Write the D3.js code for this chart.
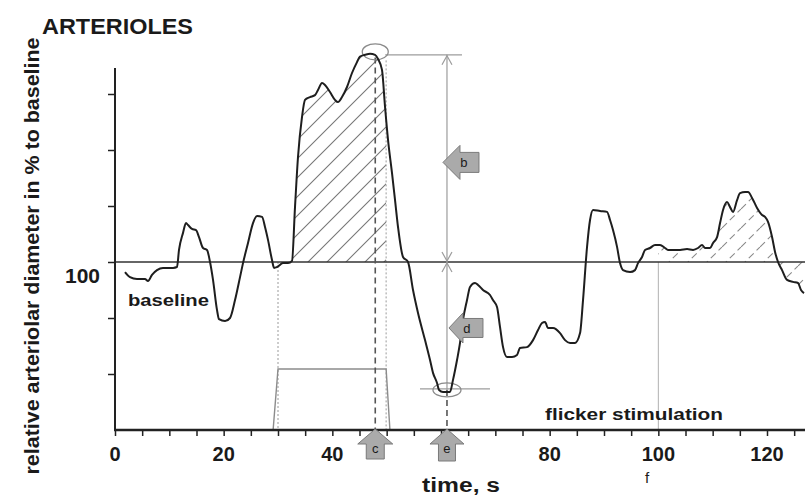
<!DOCTYPE html>
<html>
<head>
<meta charset="utf-8">
<script src="https://cdn.jsdelivr.net/npm/d3@7"></script>
<style>
  html, body { margin: 0; padding: 0; background: #fff; }
  svg { display: block; }
  text { font-family: "Liberation Sans", Arial, Helvetica, sans-serif; fill: #1a1a1a; }
</style>
</head>
<body>
<svg id="chart" width="805" height="496"></svg>
<script>
// Arteriolar diameter trace (time in s, diameter in % of baseline)
const timeS = [
  1.84, 2.76, 4.05, 5.52, 6.07, 6.81, 7.73, 8.83, 10.68, 11.41, 11.78, 12.52, 13.07, 13.44, 14.17,
  14.91, 15.46, 16.20, 16.93, 17.49, 18.04, 18.77, 19.14, 20.25, 21.17, 22.09, 23.01, 23.56, 24.48,
  25.40, 26.14, 27.06, 27.61, 28.16, 28.90, 29.27, 29.82, 30.92, 31.84, 32.58, 33.13, 33.68, 34.42,
  34.97, 35.89, 36.81, 37.36, 38.10, 38.65, 39.57, 40.49, 41.04, 41.78, 42.70, 43.62, 44.54, 45.10,
  46.02, 46.94, 47.86, 48.41, 49.14, 49.70, 50.25, 50.98, 51.54, 52.09, 53.01, 53.93, 54.85, 55.77,
  57.06, 57.98, 58.53, 59.27, 59.64, 60.37, 61.66, 62.21, 62.95, 63.50, 64.05, 64.79, 65.34, 66.26,
  66.81, 67.73, 69.02, 69.57, 70.31, 70.86, 71.42, 72.15, 73.07, 73.99, 74.54, 75.83, 76.94, 77.86,
  78.59, 79.15, 79.70, 80.62, 81.91, 82.83, 83.75, 84.67, 85.59, 86.14, 86.88, 87.43, 87.98, 89.27,
  90.56, 91.11, 91.66, 92.40, 92.95, 93.50, 94.79, 95.71, 96.26, 97.00, 97.55, 98.47, 99.39, 100.31,
  101.23, 101.78, 103.07, 103.99, 105.28, 106.39, 107.31, 108.04, 108.60, 109.52, 110.07, 110.81,
  111.36, 111.91, 112.65, 113.20, 113.75, 114.49, 115.04, 115.96, 116.51, 117.25, 118.17, 119.09,
  119.64, 120.19, 120.93, 121.48, 122.03, 122.77, 123.69, 124.79, 125.71, 126.26, 126.81
];
const diameterPct = [
  99.64, 99.46, 99.39, 99.39, 99.32, 99.54, 99.71, 99.79, 99.79, 99.82, 100.43, 101.04, 101.39, 101.32, 101.18,
  101.14, 100.89, 100.50, 100.43, 100.00, 99.36, 98.29, 97.96, 97.89, 98.00, 98.64, 99.46, 99.96, 100.68,
  101.39, 101.64, 101.61, 101.25, 100.79, 100.07, 99.79, 99.82, 99.96, 99.96, 100.04, 101.96, 103.75, 105.18,
  105.79, 105.89, 105.96, 106.14, 106.39, 106.32, 106.07, 105.79, 105.71, 105.89, 106.25, 106.75, 107.14, 107.34,
  107.40, 107.44, 107.40, 107.25, 106.86, 105.54, 104.36, 103.18, 102.21, 101.25, 100.18, 100.00, 99.00, 98.18,
  97.21, 96.50, 96.04, 95.68, 95.43, 95.36, 95.36, 95.79, 96.50, 97.11, 97.93, 98.64, 99.11, 99.25,
  99.18, 99.00, 98.82, 98.64, 98.39, 97.68, 96.96, 96.61, 96.61, 96.68, 96.93, 96.96, 97.21, 97.57,
  97.82, 97.86, 97.64, 97.64, 97.46, 97.21, 97.11, 97.11, 97.46, 98.64, 100.54, 101.50, 101.86, 101.82,
  101.79, 101.50, 101.14, 100.54, 99.96, 99.71, 99.64, 99.71, 99.96, 100.18, 100.43, 100.50, 100.61, 100.61,
  100.50, 100.43, 100.43, 100.43, 100.46, 100.43, 100.50, 100.61, 100.50, 100.50, 100.68, 100.89,
  101.39, 101.86, 102.14, 101.96, 101.79, 102.21, 102.46, 102.50, 102.50, 102.29, 101.93, 101.68,
  101.61, 101.43, 100.89, 100.36, 100.00, 99.71, 99.36, 99.29, 99.25, 99.00, 98.89
];

// Flicker stimulation on/off trace
const stimTime = [29.1, 30.0, 49.9, 50.6];
const stimLevel = [94, 96.18, 96.18, 94];

// Characteristic points
const peakTime = 47.9, peakValue = 107.4;   // maximal dilation (c)
const minTime = 61.1, minValue = 95.43;     // maximal constriction (e)
const stimOn = 30, stimOff = 49.9, recordOn = 100;

// Axis ticks
const yTickValues = [96, 98, 100, 102, 104, 106];
const yTickLabels = [100];
const xMinorTicks = d3.range(0, 126, 5);
const xTickLabels = [0, 20, 40, 80, 100, 120];

const W = 805, H = 496;
const svg = d3.select("#chart");
const x = d3.scaleLinear().domain([0, 120]).range([115, 767]);
const y = d3.scaleLinear().domain([94, 107]).range([430, 66]);

const trace = timeS.map((t, i) => ({ t, v: diameterPct[i] }));
const stim = stimTime.map((t, i) => ({ t, v: stimLevel[i] }));

// Hatch patterns for the response areas
const defs = svg.append("defs");
const hatch1 = defs.append("pattern").attr("id", "hatch1")
  .attr("patternUnits", "userSpaceOnUse").attr("width", 19).attr("height", 19);
hatch1.append("path").attr("d", "M0,19 L19,0 M-5,5 L5,-5 M14,24 L24,14")
  .attr("stroke", "#777").attr("stroke-width", 1.1).attr("fill", "none");
const hatch2 = defs.append("pattern").attr("id", "hatch2")
  .attr("patternUnits", "userSpaceOnUse").attr("width", 19).attr("height", 19);
hatch2.append("path").attr("d", "M0,19 L19,0 M-5,5 L5,-5 M14,24 L24,14")
  .attr("stroke", "#8a8a8a").attr("stroke-width", 1.1).attr("stroke-dasharray", "7,4").attr("fill", "none");

defs.append("clipPath").attr("id", "clipStim").append("rect")
  .attr("x", x(stimOn)).attr("y", 0).attr("width", x(stimOff) - x(stimOn)).attr("height", H);
defs.append("clipPath").attr("id", "clipRec").append("rect")
  .attr("x", x(recordOn)).attr("y", 0).attr("width", W - x(recordOn)).attr("height", H);

const curve = d3.curveMonotoneX;
const area = d3.area().x(d => x(d.t)).y0(y(100)).y1(d => y(d.v)).curve(curve);
svg.append("path").datum(trace).attr("d", area).attr("fill", "url(#hatch1)").attr("clip-path", "url(#clipStim)");
svg.append("path").datum(trace).attr("d", area).attr("fill", "url(#hatch2)").attr("clip-path", "url(#clipRec)");

// Reference verticals
const vline = (t, v0, v1, stroke, dash, width) =>
  svg.append("line").attr("x1", x(t)).attr("x2", x(t)).attr("y1", y(v0)).attr("y2", y(v1))
    .attr("stroke", stroke).attr("stroke-width", width).attr("stroke-dasharray", dash);
vline(stimOn, 100, 94, "#9a9a9a", "2,2", 1);
vline(stimOff, peakValue - 0.2, 94, "#9a9a9a", "2,2", 1);
vline(recordOn, 100, 94, "#b0b0b0", null, 1);

// Baseline
svg.append("line").attr("x1", x(0)).attr("x2", W).attr("y1", y(100)).attr("y2", y(100))
  .attr("stroke", "#333").attr("stroke-width", 1.5);

// Stimulation trace
const line = d3.line().x(d => x(d.t)).y(d => y(d.v));
svg.append("path").datum(stim).attr("d", line).attr("fill", "none")
  .attr("stroke", "#8c8c8c").attr("stroke-width", 1.4);

// Peak / trough markers
vline(peakTime, peakValue - 0.1, 94, "#555", "6,4", 1.6);
vline(minTime, minValue, 94, "#555", "6,4", 1.6);

const grey = "#9c9c9c";
svg.append("line").attr("x1", x(peakTime) + 10).attr("x2", x(minTime) + 15)
  .attr("y1", y(peakValue)).attr("y2", y(peakValue)).attr("stroke", grey).attr("stroke-width", 1.2);
svg.append("line").attr("x1", x(minTime) - 27).attr("x2", x(minTime) + 43)
  .attr("y1", y(minValue) - 1).attr("y2", y(minValue) - 1).attr("stroke", grey).attr("stroke-width", 1.2);
svg.append("line").attr("x1", x(minTime)).attr("x2", x(minTime))
  .attr("y1", y(peakValue)).attr("y2", y(minValue)).attr("stroke", grey).attr("stroke-width", 1.2);

// open arrowheads on the measuring line
const chevron = (px, py, dir) => {
  const h = 9 * dir, w = 5;
  svg.append("path").attr("d", `M${px - w},${py + h} L${px},${py} L${px + w},${py + h}`)
    .attr("fill", "none").attr("stroke", grey).attr("stroke-width", 1.2);
};
chevron(x(minTime), y(peakValue) + 1, 1);
chevron(x(minTime), y(100) - 1, -1);
chevron(x(minTime), y(100) + 1, 1);

svg.append("ellipse").attr("cx", x(peakTime)).attr("cy", y(peakValue) - 3).attr("rx", 13).attr("ry", 8)
  .attr("fill", "none").attr("stroke", "#8a8a8a").attr("stroke-width", 1.3);
svg.append("ellipse").attr("cx", x(minTime)).attr("cy", y(minValue)).attr("rx", 14).attr("ry", 7)
  .attr("fill", "none").attr("stroke", "#8a8a8a").attr("stroke-width", 1.3);

// Diameter trace
svg.append("path").datum(trace).attr("d", line.curve(curve)).attr("fill", "none")
  .attr("stroke", "#1e1e1e").attr("stroke-width", 2).attr("stroke-linejoin", "round");

// Axes
const yAxis = d3.axisLeft(y).tickValues(yTickValues).tickSize(7).tickFormat(() => "");
const gy = svg.append("g").attr("transform", `translate(${x(0)},0)`).call(yAxis);
gy.select(".domain").remove();
gy.selectAll(".tick line").attr("stroke", "#222").attr("stroke-width", 1.5);
svg.append("line").attr("x1", x(0)).attr("x2", x(0)).attr("y1", y(94)).attr("y2", y(107) + 2)
  .attr("stroke", "#222").attr("stroke-width", 2);

const xAxis = d3.axisBottom(x).tickValues(xMinorTicks).tickSize(6).tickFormat(() => "");
const gx = svg.append("g").attr("transform", `translate(0,${y(94)})`).call(xAxis);
gx.select(".domain").remove();
gx.selectAll(".tick line").attr("stroke", "#222").attr("stroke-width", 1.5);
svg.append("line").attr("x1", x(0) - 1).attr("x2", W).attr("y1", y(94)).attr("y2", y(94))
  .attr("stroke", "#222").attr("stroke-width", 2.6);

svg.append("g").selectAll("text").data(xTickLabels).join("text")
  .attr("x", d => x(d)).attr("y", 461).attr("text-anchor", "middle")
  .attr("font-size", 20).attr("font-weight", "bold").text(d => d);
svg.append("g").selectAll("text").data(yTickLabels).join("text")
  .attr("x", 100).attr("y", d => y(d) + 21).attr("text-anchor", "end")
  .attr("font-size", 21).attr("font-weight", "bold").text(d => d);

// Block arrows marking the characteristic quantities
function blockArrow(tipX, tipY, dir, headLen, headHalf, bodyHalf, bodyLen, label) {
  let pts;
  if (dir === "left") {
    pts = [[tipX, tipY], [tipX + headLen, tipY - headHalf], [tipX + headLen, tipY - bodyHalf],
      [tipX + headLen + bodyLen, tipY - bodyHalf], [tipX + headLen + bodyLen, tipY + bodyHalf],
      [tipX + headLen, tipY + bodyHalf], [tipX + headLen, tipY + headHalf]];
  } else {
    pts = [[tipX, tipY], [tipX + headHalf, tipY + headLen], [tipX + bodyHalf, tipY + headLen],
      [tipX + bodyHalf, tipY + headLen + bodyLen], [tipX - bodyHalf, tipY + headLen + bodyLen],
      [tipX - bodyHalf, tipY + headLen], [tipX - headHalf, tipY + headLen]];
  }
  svg.append("path").attr("d", "M" + pts.map(p => p.join(",")).join("L") + "Z")
    .attr("fill", "#aaaaaa").attr("stroke", "#7a7a7a").attr("stroke-width", 1);
  const lx = dir === "left" ? tipX + headLen + 4 : tipX;
  const ly = dir === "left" ? tipY + 5 : tipY + headLen + 9;
  svg.append("text").attr("x", lx).attr("y", ly).attr("text-anchor", "middle")
    .attr("font-size", 13).attr("fill", "#222").text(label);
}
blockArrow(x(minTime) - 4, (y(peakValue) + y(100)) / 2 + 4, "left", 17, 17, 10, 19, "b");
blockArrow(x(minTime) + 2, (y(100) + y(minValue)) / 2 + 2, "left", 14, 15, 9.5, 20, "d");
blockArrow(x(peakTime), y(94) - 1, "up", 15, 17.5, 9, 15, "c");
blockArrow(x(minTime), y(94) - 1, "up", 15, 17, 8.5, 17, "e");

// Titles and labels
svg.append("text").attr("x", 42).attr("y", 34).attr("font-size", 22).attr("font-weight", "bold")
  .attr("textLength", 151).attr("lengthAdjust", "spacingAndGlyphs").text("ARTERIOLES");
svg.append("text").attr("transform", "translate(39,256) rotate(-90)").attr("text-anchor", "middle")
  .attr("font-size", 21).attr("font-weight", "bold")
  .attr("textLength", 437).attr("lengthAdjust", "spacingAndGlyphs")
  .text("relative arteriolar diameter in % to baseline");
svg.append("text").attr("x", 422).attr("y", 492).attr("font-size", 20).attr("font-weight", "bold")
  .attr("textLength", 78).attr("lengthAdjust", "spacingAndGlyphs").text("time, s");
svg.append("text").attr("x", 128).attr("y", 306).attr("font-size", 17).attr("font-weight", "bold")
  .attr("textLength", 81).attr("lengthAdjust", "spacingAndGlyphs").text("baseline");
svg.append("text").attr("x", 545).attr("y", 420).attr("font-size", 17).attr("font-weight", "bold")
  .attr("textLength", 178).attr("lengthAdjust", "spacingAndGlyphs").text("flicker stimulation");
svg.append("text").attr("x", 647).attr("y", 483).attr("text-anchor", "middle")
  .attr("font-size", 15).text("f");
</script>
</body>
</html>
